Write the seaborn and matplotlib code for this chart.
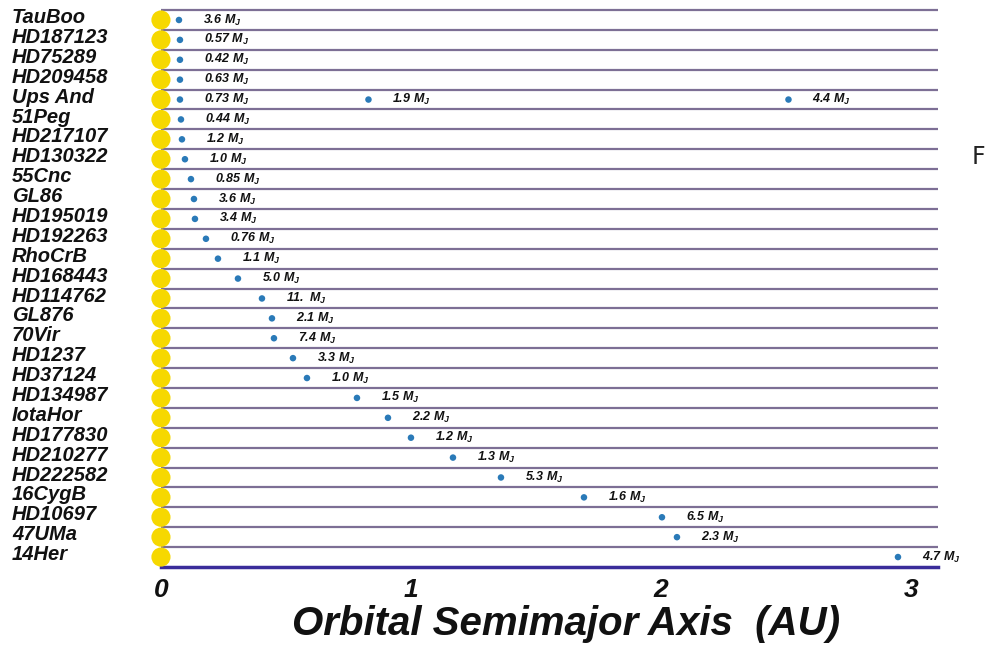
import pandas as pd
import matplotlib
import matplotlib.pyplot as plt
import matplotlib.transforms as mtransforms
import seaborn as sns

# Stars, top to bottom
stars = ['TauBoo', 'HD187123', 'HD75289', 'HD209458', 'Ups And', '51Peg', 'HD217107',
         'HD130322', '55Cnc', 'GL86', 'HD195019', 'HD192263', 'RhoCrB', 'HD168443',
         'HD114762', 'GL876', '70Vir', 'HD1237', 'HD37124', 'HD134987', 'IotaHor',
         'HD177830', 'HD210277', 'HD222582', '16CygB', 'HD10697', '47UMa', '14Her']

# Planets: host star, semimajor axis (AU), mass label (M_J)
planet_star = ['TauBoo', 'HD187123', 'HD75289', 'HD209458', 'Ups And', 'Ups And', 'Ups And',
               '51Peg', 'HD217107', 'HD130322', '55Cnc', 'GL86', 'HD195019', 'HD192263',
               'RhoCrB', 'HD168443', 'HD114762', 'GL876', '70Vir', 'HD1237', 'HD37124',
               'HD134987', 'IotaHor', 'HD177830', 'HD210277', 'HD222582', '16CygB',
               'HD10697', '47UMa', '14Her']
planet_a = [0.072, 0.076, 0.076, 0.076, 0.076, 0.83, 2.51,
            0.08, 0.084, 0.096, 0.12, 0.132, 0.136, 0.18,
            0.228, 0.308, 0.404, 0.444, 0.452, 0.528, 0.584,
            0.784, 0.908, 1.0, 1.168, 1.36, 1.692,
            2.004, 2.064, 2.948]
planet_mass = ['3.6', '0.57', '0.42', '0.63', '0.73', '1.9', '4.4',
               '0.44', '1.2', '1.0', '0.85', '3.6', '3.4', '0.76',
               '1.1', '5.0', '11.', '2.1', '7.4', '3.3', '1.0',
               '1.5', '2.2', '1.2', '1.3', '5.3', '1.6',
               '6.5', '2.3', '4.7']

LINE = '#7d6f95'
AXIS = '#3a2c9a'
SUN = '#f6d800'
PLANET = '#2a7ab8'


def main():
    sns.set_theme(style="white")
    plt.rcParams['font.family'] = ['Liberation Sans', 'DejaVu Sans']
    plt.rcParams.update({
        'mathtext.fontset': 'custom',
        'mathtext.rm': 'Liberation Sans:bold:italic',
        'mathtext.it': 'Liberation Sans:bold:italic',
        'mathtext.bf': 'Liberation Sans:bold:italic',
        'text.color': 'black',
        'xtick.color': 'black',
    })

    row = {s: i for i, s in enumerate(stars)}
    suns = pd.DataFrame({'star': stars, 'a': 0.0, 'row': range(len(stars))})
    planets = pd.DataFrame({'star': planet_star, 'a': planet_a, 'mass': planet_mass})
    planets['row'] = planets['star'].map(row)

    fig = plt.figure(figsize=(9.86, 6.57), dpi=100)
    ax = fig.add_axes([0.1531, 0.137, 0.7987, 0.8568])

    xmax = 3.11
    ax.hlines([i - 0.5 for i in range(len(stars))], 0, xmax, color=LINE, lw=1.6, zorder=1)

    sns.scatterplot(data=suns, x='a', y='row', s=190, color=SUN, edgecolor='none',
                    ax=ax, zorder=3, legend=False)
    sns.scatterplot(data=planets, x='a', y='row', s=22, color=PLANET, edgecolor='none',
                    ax=ax, zorder=3, legend=False)

    for _, p in planets.iterrows():
        ax.annotate(f"${p['mass']}\\ M_J$", (p['a'], p['row']), xytext=(17, 0),
                    textcoords='offset points', va='center', ha='left',
                    fontsize=9, color='#111111', zorder=4)

    # star names on the left
    tr = mtransforms.blended_transform_factory(fig.transFigure, ax.transData)
    for s, i in row.items():
        ax.text(0.012, i - 0.12, s, transform=tr, ha='left', va='center',
                fontsize=14.5, fontweight='bold', fontstyle='italic', color='#111111')

    ax.set_xlim(-0.04, xmax)
    ax.set_ylim(27.5, -0.8)
    ax.set_yticks([])
    ax.set_xticks([0, 1, 2, 3])
    ax.set_xticklabels(['0', '1', '2', '3'], fontsize=19, fontweight='bold',
                       fontstyle='italic', color='#111111')
    ax.tick_params(axis='x', direction='inout', length=10, width=1.5, color=AXIS, pad=3)
    for side in ['top', 'left', 'right']:
        ax.spines[side].set_visible(False)
    ax.spines['bottom'].set_color(AXIS)
    ax.spines['bottom'].set_linewidth(2.5)
    ax.spines['bottom'].set_bounds(0, xmax)
    ax.set_xlabel('Orbital Semimajor Axis  (AU)', fontsize=29, fontweight='bold',
                  fontstyle='italic', color='#111111')
    ax.xaxis.set_label_coords(0.527, -0.068, transform=ax.transAxes)
    ax.xaxis.label.set_va('top')
    ax.set_ylabel('')

    fig.text(0.985, 1 - 157 / 657, 'F', fontsize=17, ha='left', va='center',
             family=['DejaVu Sans'], color='#222222')

    fig.savefig('out.png', dpi=100)
    plt.close()


if __name__ == '__main__':
    main()
